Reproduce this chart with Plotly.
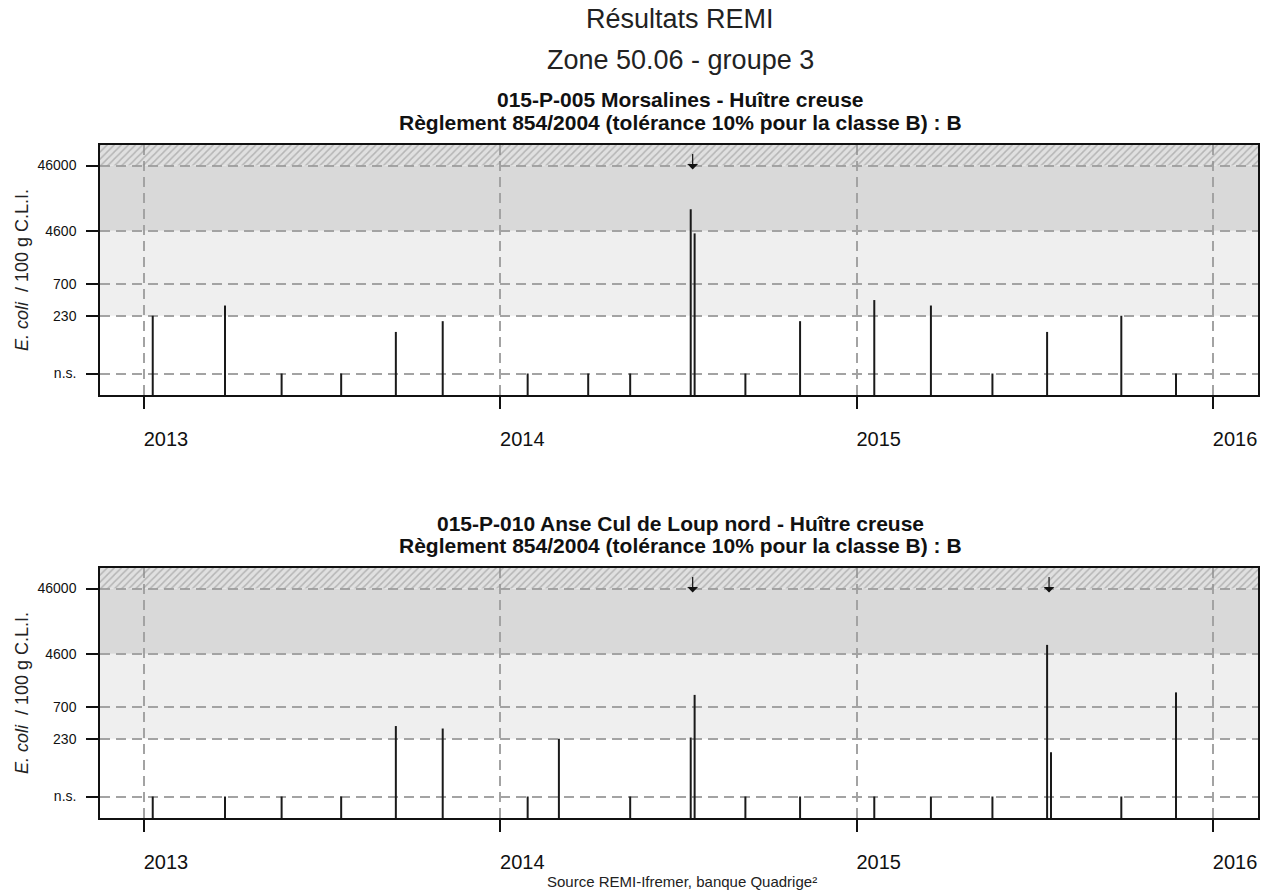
import math
import plotly.graph_objects as go

# --- data ------------------------------------------------------------------
NS = 30  # level at which "n.s." results are drawn

top_title = "015-P-005 Morsalines - Huître creuse"
top_dates = ["2013-01-10", "2013-03-25", "2013-05-22", "2013-07-22", "2013-09-16",
             "2013-11-03", "2014-01-29", "2014-04-01", "2014-05-14", "2014-07-15",
             "2014-07-19", "2014-09-09", "2014-11-04", "2015-01-19", "2015-03-18",
             "2015-05-20", "2015-07-15", "2015-09-29", "2015-11-24"]
top_values = [230, 330, "n.s.", "n.s.", 130,
              190, "n.s.", "n.s.", "n.s.", 9800,
              4200, "n.s.", 190, 400, 330,
              "n.s.", 130, 230, "n.s."]
top_alerts = ["2014-07-17"]

bot_title = "015-P-010 Anse Cul de Loup nord - Huître creuse"
bot_dates = ["2013-01-10", "2013-03-25", "2013-05-22", "2013-07-22", "2013-09-16",
             "2013-11-03", "2014-01-29", "2014-03-02", "2014-05-14", "2014-07-15",
             "2014-07-19", "2014-09-09", "2014-11-04", "2015-01-19", "2015-03-18",
             "2015-05-20", "2015-07-15", "2015-07-19", "2015-09-29", "2015-11-24"]
bot_values = ["n.s.", "n.s.", "n.s.", "n.s.", 360,
              330, "n.s.", 230, "n.s.", 240,
              1080, "n.s.", "n.s.", "n.s.", "n.s.",
              "n.s.", 6300, 143, "n.s.", 1180]
bot_alerts = ["2014-07-17", "2015-07-17"]

y_tick_vals = [NS, 230, 700, 4600, 46000]
y_tick_text = ["n.s.", "230", "700", "4600", "46000"]
year_ticks = ["2013-01-01", "2014-01-01", "2015-01-01", "2016-01-01"]
year_labels = ["2013", "2014", "2015", "2016"]
regulation = "Règlement 854/2004 (tolérance 10% pour la classe B) : B"

W, H = 1271, 893
FONT = "Liberation Sans, Arial, sans-serif"
X_RANGE = ["2012-11-17", "2016-02-16"]
Y_RANGE = [1.148, 4.977]


def px(x):
    return x / W


def py(y):
    return 1 - y / H


fig = go.Figure()


def stems(dates, values):
    xs, ys = [], []
    for d, v in zip(dates, values):
        v = NS if v == "n.s." else v
        xs += [d, d, None]
        ys += [1, v, None]
    return xs, ys


panels = [
    ("x", "y", top_dates, top_values, top_alerts, top_title, (145, 395)),
    ("x2", "y2", bot_dates, bot_values, bot_alerts, bot_title, (568, 818)),
]

for xa, ya, dates, values, alerts, title, (ptop, pbot) in panels:
    # hatched band above 46000
    fig.add_trace(go.Scatter(
        x=[X_RANGE[0], X_RANGE[1], X_RANGE[1], X_RANGE[0]],
        y=[46000, 46000, 1e6, 1e6],
        xaxis=xa, yaxis=ya, mode="lines", fill="toself",
        fillcolor="rgba(0,0,0,0)",
        fillpattern=dict(shape="/", fgcolor="#8a8a8a", bgcolor="rgba(0,0,0,0)",
                         size=5, solidity=0.3),
        line=dict(width=0), hoverinfo="skip", showlegend=False
    ))
    xs, ys = stems(dates, values)
    fig.add_trace(go.Scatter(
        x=xs, y=ys, xaxis=xa, yaxis=ya, mode="lines",
        line=dict(color="#1a1a1a", width=2), hoverinfo="skip", showlegend=False
    ))

    # class bands
    xref = xa + " domain"
    for y0, y1, col in [(230, 4600, "#efefef"), (4600, 46000, "#d9d9d9"), (46000, 1e6, "#e0e0e0")]:
        fig.add_shape(type="rect", xref=xref, yref=ya, x0=0, x1=1, y0=y0, y1=y1,
                      fillcolor=col, line=dict(width=0), layer="below")

    for d in alerts:
        fig.add_annotation(x=d, y=math.log10(40000), xref=xa, yref=ya, text="",
                           showarrow=True, ax=0, ay=-17, arrowhead=1, arrowsize=1.5,
                           arrowwidth=1.2, arrowcolor="#111")

    fig.add_annotation(x=px(22), y=py((ptop + pbot) / 2), xref="paper", yref="paper",
                       xanchor="center", yanchor="middle", showarrow=False,
                       textangle=-90, text="<i>E. coli</i>  / 100 g C.L.I.",
                       font=dict(size=18, color="#222", family=FONT))
    fig.add_annotation(x=px(680), y=py(ptop - 45), xref="paper", yref="paper",
                       xanchor="center", yanchor="middle",
                       showarrow=False, text="<b>" + title + "</b>",
                       font=dict(size=21, color="#111", family=FONT))
    fig.add_annotation(x=px(680), y=py(ptop - 23), xref="paper", yref="paper",
                       xanchor="center", yanchor="middle",
                       showarrow=False, text="<b>" + regulation + "</b>",
                       font=dict(size=21, color="#111", family=FONT))

xaxis_style = dict(
    type="date", range=X_RANGE, domain=[px(100), px(1258)],
    tickvals=year_ticks, ticktext=year_labels, ticks="outside", ticklen=12,
    tickwidth=1.5, tickcolor="#111", showline=True, mirror=True, linecolor="#111",
    linewidth=1.5, showgrid=True, gridcolor="#a3a3a3", griddash="10px,6px",
    gridwidth=1.5, zeroline=False, ticklabelshift=22, ticklabelstandoff=13,
    tickfont=dict(size=20, color="#111", family=FONT)
)
yaxis_style = dict(
    type="log", range=Y_RANGE, tickvals=y_tick_vals, ticktext=y_tick_text,
    ticks="outside", ticklen=12, tickwidth=1.5, tickcolor="#111",
    showline=True, mirror=True, linecolor="#111", linewidth=1.5,
    showgrid=True, gridcolor="#a3a3a3", griddash="10px,6px", gridwidth=1.5,
    zeroline=False, ticklabelstandoff=7,
    tickfont=dict(size=14, color="#111", family=FONT)
)

fig.update_layout(
    width=W, height=H, margin=dict(l=0, r=0, t=0, b=0),
    plot_bgcolor="white", paper_bgcolor="white",
    xaxis=dict(xaxis_style, anchor="y"),
    xaxis2=dict(xaxis_style, anchor="y2"),
    yaxis=dict(yaxis_style, domain=[py(395), py(145)], anchor="x"),
    yaxis2=dict(yaxis_style, domain=[py(818), py(568)], anchor="x2"),
    font=dict(family=FONT, color="#111"),
    showlegend=False,
)

fig.add_annotation(x=px(680), y=py(19), xref="paper", yref="paper", showarrow=False,
                   xanchor="center", yanchor="middle",
                   text="Résultats REMI", font=dict(size=27, color="#222", family=FONT))
fig.add_annotation(x=px(680), y=py(60), xref="paper", yref="paper", showarrow=False,
                   xanchor="center", yanchor="middle",
                   text="Zone 50.06 - groupe 3", font=dict(size=27, color="#222", family=FONT))
fig.add_annotation(x=px(682), y=py(881), xref="paper", yref="paper", showarrow=False,
                   xanchor="center", yanchor="middle",
                   text="Source REMI-Ifremer, banque Quadrige²",
                   font=dict(size=15, color="#222", family=FONT))

# the page's default 8px body margin would shift the figure, so drop it
fig.write_html("out.html", config={"displayModeBar": False},
               post_script="document.body.style.margin='0px';")
